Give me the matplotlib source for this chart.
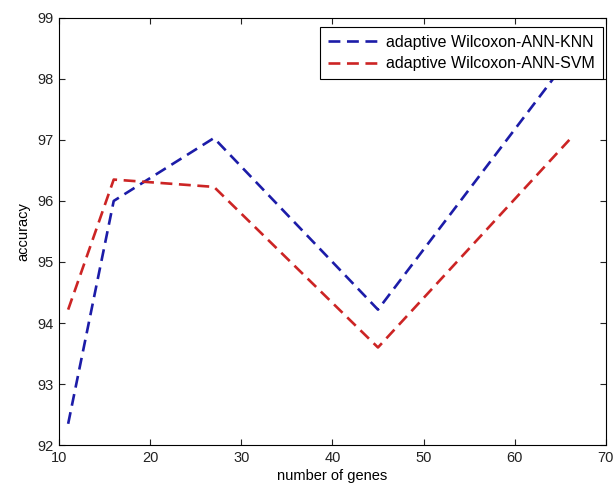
import matplotlib
matplotlib.use('Agg')
import matplotlib.pyplot as plt

plt.rcParams['font.family'] = ['Liberation Sans', 'DejaVu Sans']

# values
genes = [11, 16, 27, 45, 66]
acc_knn = [92.35, 96.0, 97.03, 94.22, 98.35]
acc_svm = [94.22, 96.35, 96.23, 93.6, 97.0]
labels = ['adaptive Wilcoxon-ANN-KNN', 'adaptive Wilcoxon-ANN-SVM']

fig = plt.figure(figsize=(6.15, 4.93), dpi=100)
ax = fig.add_axes([0.096, 0.097, 0.889, 0.867])

ax.plot(genes, acc_knn, linestyle='--', color='#1c1ca8', linewidth=1.9,
        dashes=(4.5, 2.5), label=labels[0])
ax.plot(genes, acc_svm, linestyle='--', color='#cc2424', linewidth=1.9,
        dashes=(4.5, 2.5), label=labels[1])

ax.set_xlim(10, 70)
ax.set_ylim(92, 99)
ax.set_xticks(range(10, 71, 10))
ax.set_yticks(range(92, 100))
ax.tick_params(direction='in', top=True, right=True, labelsize=10.5,
               length=4, pad=4, colors='#222222')
ax.set_xlabel('number of genes', fontsize=10.5, labelpad=3)
ax.set_ylabel('accuracy', fontsize=10.5, labelpad=5)

leg = ax.legend(loc='upper right', bbox_to_anchor=(0.9945, 0.979),
                fontsize=11.5, fancybox=False, framealpha=1,
                edgecolor='black', borderaxespad=0, handlelength=3.2,
                handletextpad=0.4, borderpad=0.5, labelspacing=0.4)
leg.get_frame().set_linewidth(0.8)

fig.savefig('out.png', dpi=100)
